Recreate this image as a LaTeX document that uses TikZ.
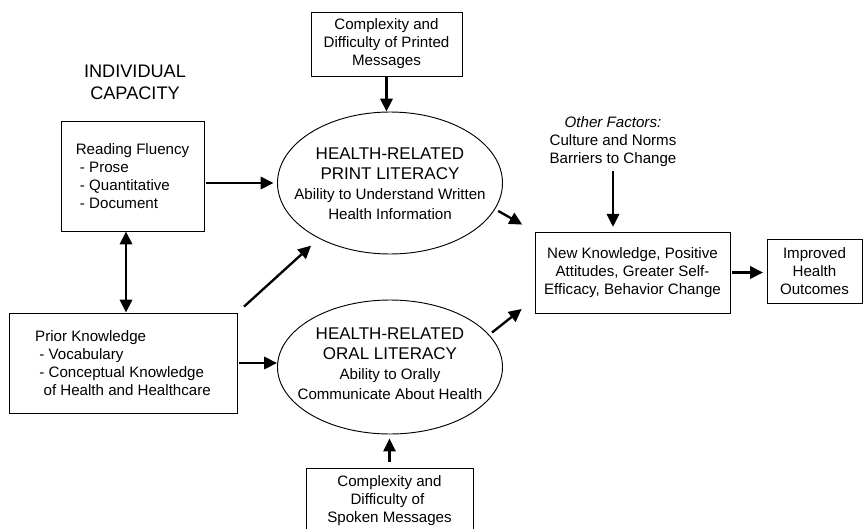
\documentclass[tikz,border=0pt]{standalone}
\usepackage{fontspec}
\setmainfont{Liberation Sans}
\usetikzlibrary{arrows.meta,shapes.geometric}

% font sizes for the headings and for the box texts
\newcommand{\capfont}{\fontsize{15.5}{18.7}\selectfont}
\newcommand{\headfont}{\fontsize{14.5}{17}\selectfont}
\newcommand{\bodyfont}{\fontsize{12.9}{15.3}\selectfont}

\begin{document}
\begin{tikzpicture}[x=0.03cm, y=-0.03cm,
    box/.style={draw, line width=0.8pt, font=\bodyfont, align=center, inner sep=0pt},
    bubble/.style={draw, ellipse, line width=0.8pt, inner sep=0pt},
    link/.style={line width=2pt, -{Triangle[length=11pt,width=10.5pt]}},
    twoway/.style={line width=2pt, {Triangle[length=11pt,width=10.5pt]}-{Triangle[length=11pt,width=10.5pt]}}]
    \useasboundingbox (0,0) rectangle (863,528);

    % Left column: individual capacity
    \node[font=\capfont, align=center] (capacity) at (135,82) {INDIVIDUAL\\CAPACITY};
    \node[box, align=left, minimum width=4.29cm, minimum height=3.3cm] (read) at (132.5,176)
        {Reading Fluency\\~- Prose\\~- Quantitative\\~- Document};
    \node[box, align=left, minimum width=6.84cm, minimum height=3.0cm] (prior) at (123,363)
        {Prior Knowledge\\~- Vocabulary\\~- Conceptual Knowledge\\~~of Health and Healthcare};

    % The two literacy ellipses with their texts
    \node[bubble, minimum width=6.75cm, minimum height=4.26cm] (print) at (390,183) {};
    \node[font=\headfont, align=center] (printtext) at (390,184)
        {HEALTH-RELATED\\PRINT LITERACY\\\bodyfont Ability to Understand Written\\\bodyfont Health Information};
    \node[bubble, minimum width=6.75cm, minimum height=4.02cm] (oral) at (390,367) {};
    \node[font=\headfont, align=center] (oraltext) at (390,363.5)
        {HEALTH-RELATED\\ORAL LITERACY\\\bodyfont Ability to Orally\\\bodyfont Communicate About Health};

    % Message difficulty above and below
    \node[box, minimum width=4.53cm, minimum height=1.92cm] (printed) at (386.5,44)
        {Complexity and\\Difficulty of Printed\\Messages};
    \node[box, minimum width=5.01cm, minimum height=1.98cm] (spoken) at (389.5,501)
        {Complexity and\\Difficulty of~~\\Spoken Messages};

    % Right side: outcomes
    \node[font=\bodyfont, align=center] (other) at (613,142)
        {\textit{Other Factors:}\\Culture and Norms\\Barriers to Change};
    \node[box, minimum width=5.85cm, minimum height=2.43cm] (outcome) at (632.5,272.5)
        {New Knowledge, Positive\\Attitudes, Greater Self-\\Efficacy, Behavior Change};
    \node[box, minimum width=2.85cm, minimum height=1.92cm] (improved) at (814.5,271)
        {Improved\\Health\\Outcomes};

    % Arrows
    \coordinate (rp) at (126,0);
    \draw[twoway] (read.south -| rp) -- (prior.north -| rp);
    \draw[link, shorten <=1.5pt, shorten >=3pt] (read.east |- print.west) -- (print.west);
    \draw[link, shorten <=7.5pt, shorten >=9pt] (prior.north east) -- (print.218);
    \draw[link, shorten <=1.5pt] (prior.east) -- (prior.east -| oral.west);
    \draw[link] (printed.south) -- (printed.south |- print.north);
    \draw[link, shorten <=5pt, shorten >=3.5pt] (spoken.north) -- (spoken.north |- oral.south);
    \draw[link, shorten <=3pt, shorten >=12pt] (print.-14) -- (outcome.north west);
    \draw[link, shorten <=3pt, shorten >=14pt] (oral.18) -- (outcome.195);
    \draw[link, shorten >=4pt] (other.south) -- (other.south |- outcome.north);
    \draw[link, shorten <=1.5pt, shorten >=3pt] (outcome.east) -- (outcome.east -| improved.west);
\end{tikzpicture}
\end{document}
